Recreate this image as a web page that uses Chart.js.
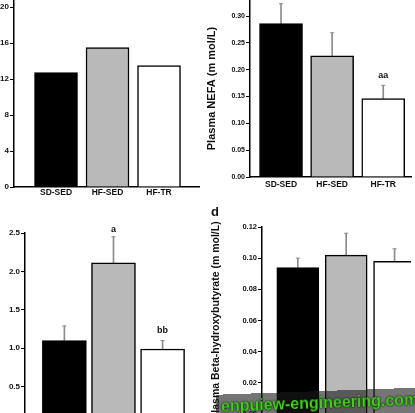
<!DOCTYPE html>
<html>
<head>
<meta charset="utf-8">
<script src="https://cdn.jsdelivr.net/npm/chart.js@4.4.1/dist/chart.umd.min.js"></script>
<style>
  html, body { margin: 0; padding: 0; }
  body { width: 415px; height: 413px; overflow: hidden; position: relative; background: #fff; }
  canvas { position: absolute; }
  #tag { position: absolute; left: 211px; top: 205px; font: bold 13px "Liberation Sans", Arial, sans-serif; line-height: 13px; color: #111; }
  #wm { position: absolute; left: 216px; top: 391px; width: 215px; height: 30px; transform: rotate(-2deg);
        background: rgba(25, 25, 25, 0.6); }
  #wm span { position: absolute; left: 5px; top: 3px; font: bold 16px "Liberation Sans", Arial, sans-serif; line-height: 18px;
        color: #3fd11a; text-shadow: 0 0 2px #000, 0 0 1px #000; white-space: nowrap; }
</style>
</head>
<body>
<canvas id="chartA" width="216" height="219" style="left:-16px;top:-12px"></canvas>
<canvas id="chartB" width="211" height="207" style="left:205px;top:-10px"></canvas>
<canvas id="chartC" width="210" height="222" style="left:-5px;top:223px"></canvas>
<canvas id="chartD" width="206" height="217" style="left:210px;top:217px"></canvas>
<div id="tag">d</div>
<div id="wm"><span>enpuiew-engineering.com</span></div>
<script>
const groups = ['SD-SED', 'HF-SED', 'HF-TR'];

// panel a (axis title cut off)
const aValues = [12.7, 15.5, 13.5];
const aTicks = [0, 4, 8, 12, 16, 20];

// plasma NEFA
const nefaValues = [0.286, 0.226, 0.146];
const nefaErrTop = [0.323, 0.269, 0.171];
const nefaLetters = ['', '', 'aa'];
const nefaTicks = [0, 0.05, 0.10, 0.15, 0.20, 0.25, 0.30];

// panel c
const cValues = [1.10, 2.11, 0.99];
const cErrTop = [1.29, 2.45, 1.10];
const cLetters = ['', 'a', 'bb'];
const cTicks = [0, 0.5, 1.0, 1.5, 2.0, 2.5];

// plasma beta-hydroxybutyrate
const bhbValues = [0.094, 0.102, 0.098];
const bhbErrTop = [0.100, 0.116, 0.106];
const bhbTicks = [0, 0.02, 0.04, 0.06, 0.08, 0.10, 0.12];

const barFill = ['#000000', '#b9b9b9', '#ffffff'];
const NARROW = '"Liberation Sans Narrow", "Liberation Sans", Arial, sans-serif';
const REGULAR = '"Liberation Sans", Arial, sans-serif';

const letterPlugin = {
  id: 'letters',
  afterDatasetsDraw(chart, args, o) {
    if (!o.text) return;
    const {ctx, scales: {x, y}} = chart;
    ctx.save();
    ctx.font = 'bold 9px ' + NARROW;
    ctx.textAlign = 'center';
    ctx.textBaseline = 'middle';
    ctx.fillStyle = '#111';
    o.text.forEach((t, i) => {
      if (t) ctx.fillText(t, x.getPixelForValue(i + 1), y.getPixelForValue(o.at[i]) - (t.length > 1 ? 10 : 7));
    });
    ctx.restore();
  }
};

function panel(id, p) {
  const datasets = [{
    type: 'bar',
    data: p.values.map((v, i) => ({x: i + 1, y: v})),
    backgroundColor: barFill,
    borderColor: '#000',
    borderWidth: 1.5,
    barThickness: p.barWidth,
    grouped: false,
    order: 1
  }];
  if (p.errTop) {
    datasets.push({
      type: 'bar',
      data: p.values.map((v, i) => ({x: i + 1, y: [v, p.errTop[i]]})),
      backgroundColor: '#8c8c8c',
      borderWidth: 0,
      barThickness: 1,
      grouped: false,
      order: 2
    });
    datasets.push({
      type: 'line',
      data: p.errTop.map((e, i) => ({x: i + 1, y: e})),
      showLine: false,
      pointStyle: 'line',
      pointRadius: 2,
      borderColor: '#8c8c8c',
      borderWidth: 1,
      order: 0
    });
  }

  return new Chart(document.getElementById(id), {
    type: 'bar',
    data: {datasets: datasets},
    plugins: [letterPlugin],
    options: {
      responsive: false,
      animation: false,
      layout: {padding: {top: 10, right: 0, bottom: 0, left: 0}},
      plugins: {
        legend: {display: false},
        tooltip: {enabled: false},
        letters: {text: p.letters, at: p.errTop}
      },
      scales: {
        x: {
          type: 'linear',
          offset: false,
          min: p.xMin,
          max: p.xMax,
          afterFit: s => { s.height = 20; },
          afterBuildTicks: s => { s.ticks = groups.map((g, i) => ({value: i + 1})); },
          grid: {display: false, drawTicks: false, offset: false},
          border: {color: '#000', width: 1.5},
          ticks: {
            callback: v => groups[Math.round(v) - 1],
            font: {family: NARROW, weight: 'bold', size: 8.5},
            color: '#111',
            padding: p.labelPad,
            maxRotation: 0,
            autoSkip: false
          }
        },
        y: {
          min: 0,
          max: p.yMax,
          afterFit: s => { s.width = p.yWidth; },
          afterBuildTicks: s => { s.ticks = p.ticks.map(v => ({value: v})); },
          grid: {drawOnChartArea: false, color: '#000', tickLength: 4},
          border: {color: '#000', width: 1.5},
          ticks: {
            callback: v => v.toFixed(p.decimals),
            font: {family: NARROW, weight: 'bold', size: p.tickSize},
            color: '#111',
            padding: 1
          },
          title: {
            display: !!p.title,
            text: p.title || '',
            font: {family: REGULAR, weight: 'bold', size: p.titleSize || 11},
            color: '#111',
            padding: 0
          }
        }
      }
    }
  });
}

panel('chartA', {values: aValues, ticks: aTicks, decimals: 0, yMax: 21, tickSize: 8,
  xMin: 0.184, xMax: 3.796, yWidth: 30, barWidth: 43, labelPad: 1});

panel('chartB', {values: nefaValues, errTop: nefaErrTop, letters: nefaLetters, ticks: nefaTicks,
  decimals: 2, yMax: 0.33, tickSize: 7, xMin: 0.393, xMax: 3.543, yWidth: 45, barWidth: 43, labelPad: 3,
  title: 'Plasma NEFA (m mol/L)'});

panel('chartC', {values: cValues, errTop: cErrTop, letters: cLetters, ticks: cTicks,
  decimals: 1, yMax: 2.5, tickSize: 8, xMin: 0.198, xMax: 3.762, yWidth: 30, barWidth: 44, labelPad: 3});

panel('chartD', {values: bhbValues, errTop: bhbErrTop, ticks: bhbTicks,
  decimals: 2, yMax: 0.12, tickSize: 7.5, xMin: 0.26, xMax: 3.34, yWidth: 52, barWidth: 42, labelPad: 3,
  title: 'Plasma Beta-hydroxybutyrate (m mol/L)', titleSize: 10.5});
</script>
</body>
</html>
